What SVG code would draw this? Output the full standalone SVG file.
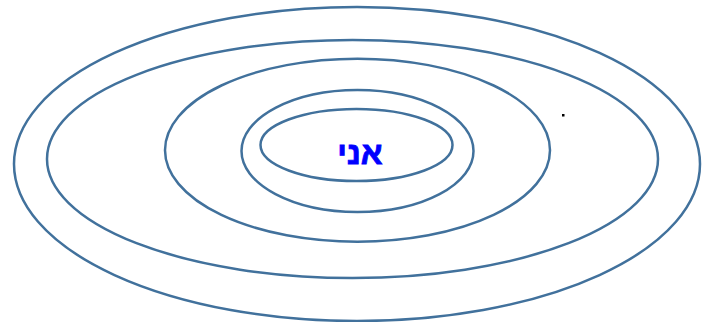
<svg xmlns="http://www.w3.org/2000/svg" width="710" height="322" viewBox="0 0 710 322">
<style>
.ring{fill:none;stroke:#41719C;stroke-width:2.5}
.lbl{font-family:"Liberation Sans","DejaVu Sans",sans-serif;font-weight:bold;font-size:32px;fill:#0000FF;stroke:#0000FF;stroke-width:0.8}
</style>
<rect width="710" height="322" fill="#ffffff"/>
<g id="ring1"><ellipse class="ring" cx="357" cy="164" rx="343" ry="157"/></g>
<g id="ring2"><ellipse class="ring" cx="352.5" cy="159" rx="305.5" ry="119"/></g>
<g id="ring3"><ellipse class="ring" cx="357.5" cy="150.2" rx="192.5" ry="91.5"/></g>
<g id="ring4"><ellipse class="ring" cx="357.5" cy="151" rx="116" ry="61"/></g>
<g id="ring5"><ellipse class="ring" cx="356.5" cy="145" rx="96" ry="36"/>
<text class="lbl" x="360" y="163.5" text-anchor="middle" direction="rtl">אני</text></g>
<rect x="562" y="114" width="2.5" height="2.5" fill="#000000"/>
</svg>
